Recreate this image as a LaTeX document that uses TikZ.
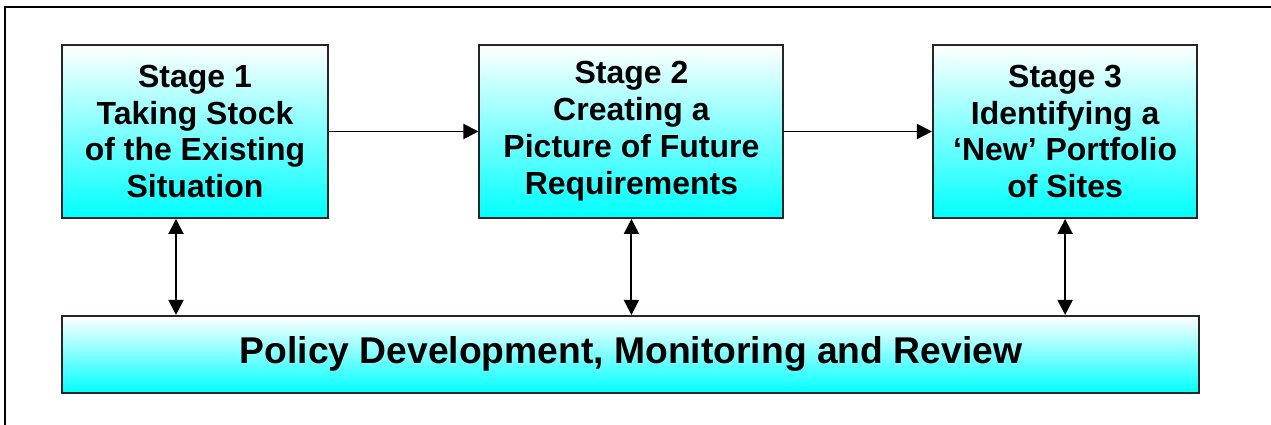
\documentclass[tikz,border=0pt]{standalone}
\usepackage{fontspec}
\setmainfont{Liberation Sans}
\usetikzlibrary{positioning,arrows.meta}
\definecolor{stageCyan}{HTML}{00FFFF}

\begin{document}
\begin{tikzpicture}[
    stagebox/.style={draw=black!85, line width=1.1pt, top color=white, bottom color=stageCyan, minimum height=3.46cm, align=center, font=\fontsize{18.2}{21}\selectfont\bfseries},
    policybox/.style={draw=black!85, line width=1.1pt, top color=white, bottom color=stageCyan, minimum width=22.74cm, minimum height=1.54cm, align=center, font=\fontsize{21.2}{25}\selectfont\bfseries},
    arr/.style={-{Triangle[length=3mm, width=3mm]}, line width=1.1pt},
    dblarr/.style={{Triangle[length=3mm, width=3mm]}-{Triangle[length=3mm, width=3mm]}, line width=1.1pt}
]
\useasboundingbox (0,0) rectangle (25.42,-8.5);
% Frame
\draw[line width=1.3pt] (0.1,-8.6) -- (0.1,-0.14) -- (25.6,-0.14);
% Nodes
\node[stagebox, minimum width=5.32cm] (st1) at (3.9,-2.63) {Stage 1\\Taking Stock\\of the Existing\\Situation};
\node[stagebox, minimum width=6.08cm, right=2.99cm of st1] (st2) {Stage 2\\Creating a\\Picture of Future\\Requirements};
\node[stagebox, minimum width=5.29cm, right=2.95cm of st2] (st3) {Stage 3\\Identifying a\\`New' Portfolio\\of Sites};
\node[policybox, below=1.92cm of st2.south west, anchor=north west, xshift=-8.34cm] (policy) {Policy Development, Monitoring and Review};
% Arrows
\draw[arr] (st1.east) -- (st2.west);
\draw[arr] (st2.east) -- (st3.west);
\draw[dblarr] ([xshift=-0.38cm]st1.south) -- ([xshift=-0.38cm]st1.south |- policy.north);
\draw[dblarr] (st2.south) -- (st2.south |- policy.north);
\draw[dblarr] (st3.south) -- (st3.south |- policy.north);
\end{tikzpicture}
\end{document}
